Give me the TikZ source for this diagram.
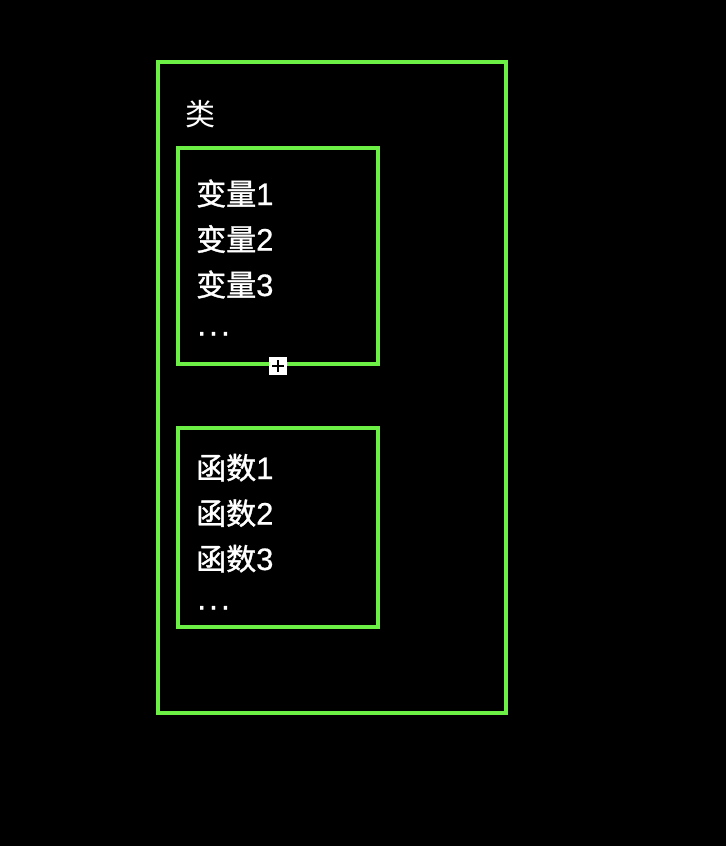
\documentclass[tikz,border=0pt]{standalone}
\usepackage{fontspec}
\newfontfamily\cjk[FakeBold=1.2]{Noto Sans CJK SC}
\newfontfamily\cjklight{Noto Sans CJK SC}
\newfontfamily\latin[FakeBold=0.6]{Liberation Sans}
\usepackage{tikz}
\usetikzlibrary{
        positioning,
        backgrounds
    }
\definecolor{boxgreen}{RGB}{108,240,70}
\tikzset{box/.style={draw=boxgreen,line width=3.3pt,inner sep=0pt}}
\tikzset{item/.style={text=white,inner sep=0pt,anchor=base west,font=\cjk\fontsize{30}{36}\selectfont}}
\newcommand{\num}[1]{{\latin\fontsize{31}{36}\selectfont #1}}
\newcommand{\dotsline}{\raisebox{6pt}{\latin\fontsize{32}{36}\selectfont\kern1pt.\kern3pt.\kern3pt.}}

\begin{document}
\begin{tikzpicture}[x=1pt,y=-1pt]
    \fill[black] (0,0) rectangle (726,846);
    \useasboundingbox (0,0) rectangle (726,846);
        \node[box,minimum width=348pt,minimum height=651pt] (class) at (332,387.5) {};
        \node[item,font=\cjklight\fontsize{30}{36}\selectfont] (title) at (185,125) {类};
        \node[box,minimum width=200pt,minimum height=216pt] (vars) at (278,256) {};
        \node[box,minimum width=200pt,minimum height=199pt] (funcs) at (278,527.5) {};
        \node[item] (var1) at (196,205) {变量\num{1}};
        \node[item] (var2) at (196,250.5) {变量\num{2}};
        \node[item] (var3) at (196,296) {变量\num{3}};
        \node[item] (vardots) at (196,341.5) {\dotsline};
        \node[item] (func1) at (196,479) {函数\num{1}};
        \node[item] (func2) at (196,524.5) {函数\num{2}};
        \node[item] (func3) at (196,570) {函数\num{3}};
        \node[item] (funcdots) at (196,615.5) {\dotsline};
        % small handle on the lower edge
        \node[fill=white,minimum size=18pt,inner sep=0pt] (handle) at (vars.south) {};
        \draw[black,line width=2pt] ([xshift=-6pt]handle.center) -- ([xshift=6pt]handle.center)
                                   ([yshift=-6pt]handle.center) -- ([yshift=6pt]handle.center);
\end{tikzpicture}
\end{document}
